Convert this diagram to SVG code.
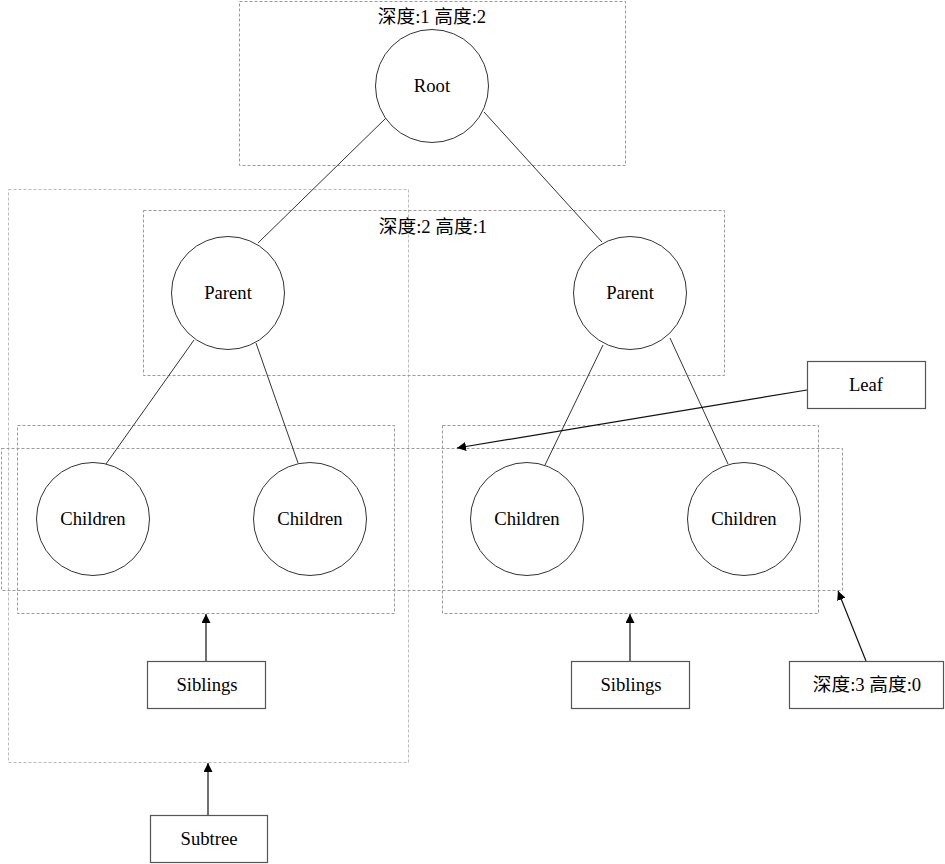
<svg xmlns="http://www.w3.org/2000/svg" width="945" height="864" viewBox="0 0 945 864">
<style>
text{font-family:'Liberation Serif','Noto Sans CJK SC',serif;font-size:18.67px;fill:#000;text-anchor:middle}
.cl{fill:none;stroke:#999;stroke-width:1;stroke-dasharray:3,2}
.cl2{fill:none;stroke:#bbb;stroke-width:1;stroke-dasharray:3,2}
.n{fill:#fff;stroke:#333;stroke-width:1}
.b{fill:#fff;stroke:#555;stroke-width:1.2}
.e{stroke:#333;stroke-width:1;fill:none}
.a{stroke:#111;stroke-width:1.2;fill:none;marker-end:url(#ah)}
</style>
<defs>
<marker id="ah" viewBox="0 0 10 10" refX="10" refY="5" markerWidth="9" markerHeight="9" markerUnits="userSpaceOnUse" orient="auto"><path d="M0,0 L10,5 L0,10 z" fill="#000"/></marker>
</defs>
<g id="clusters">
<rect class="cl" x="239.5" y="1.5" width="386" height="164"/>
<text x="432" y="23">深度:1 高度:2</text>
<rect class="cl2" x="8.5" y="189.5" width="400" height="573"/>
<rect class="cl" x="143.5" y="210.5" width="581" height="165"/>
<text x="433" y="233">深度:2 高度:1</text>
<rect class="cl" x="17.5" y="425.5" width="377" height="188"/>
<rect class="cl" x="442.5" y="425.5" width="376" height="188"/>
<rect class="cl" x="1.5" y="448.5" width="841" height="142"/>
</g>
<g id="connectors">
<line class="e" x1="386" y1="118" x2="258" y2="243"/>
<line class="e" x1="484" y1="112" x2="602" y2="242"/>
<line class="e" x1="194" y1="340" x2="106" y2="464"/>
<line class="e" x1="256" y1="343" x2="298" y2="463"/>
<line class="e" x1="603" y1="345" x2="545" y2="465"/>
<line class="e" x1="670" y1="338" x2="728" y2="464"/>
<line class="a" x1="807" y1="390" x2="457" y2="448"/>
<line class="a" x1="206" y1="661" x2="206" y2="614"/>
<line class="a" x1="630" y1="661" x2="630" y2="614"/>
<line class="a" x1="208" y1="815" x2="208" y2="763"/>
<line class="a" x1="866" y1="661" x2="838" y2="591"/>
</g>
<g id="root"><circle class="n" cx="432" cy="86" r="56.5"/><text x="432" y="92">Root</text></g>
<g id="parent1"><circle class="n" cx="228" cy="293" r="56.5"/><text x="228" y="299">Parent</text></g>
<g id="parent2"><circle class="n" cx="630" cy="293" r="56.5"/><text x="630" y="299">Parent</text></g>
<g id="child1"><circle class="n" cx="93" cy="519" r="56.5"/><text x="93" y="525">Children</text></g>
<g id="child2"><circle class="n" cx="310" cy="519" r="56.5"/><text x="310" y="525">Children</text></g>
<g id="child3"><circle class="n" cx="527" cy="519" r="56.5"/><text x="527" y="525">Children</text></g>
<g id="child4"><circle class="n" cx="744" cy="519" r="56.5"/><text x="744" y="525">Children</text></g>
<g id="leaf"><rect class="b" x="807.5" y="361.5" width="118" height="47"/><text x="866" y="391">Leaf</text></g>
<g id="siblings1"><rect class="b" x="147.5" y="661.5" width="118" height="47"/><text x="207" y="691">Siblings</text></g>
<g id="siblings2"><rect class="b" x="571.5" y="661.5" width="118" height="47"/><text x="631" y="691">Siblings</text></g>
<g id="depth3"><rect class="b" x="789.5" y="661.5" width="154" height="47"/><text x="867" y="691">深度:3 高度:0</text></g>
<g id="subtree"><rect class="b" x="150.5" y="815.5" width="117" height="47"/><text x="209" y="845">Subtree</text></g>
</svg>
